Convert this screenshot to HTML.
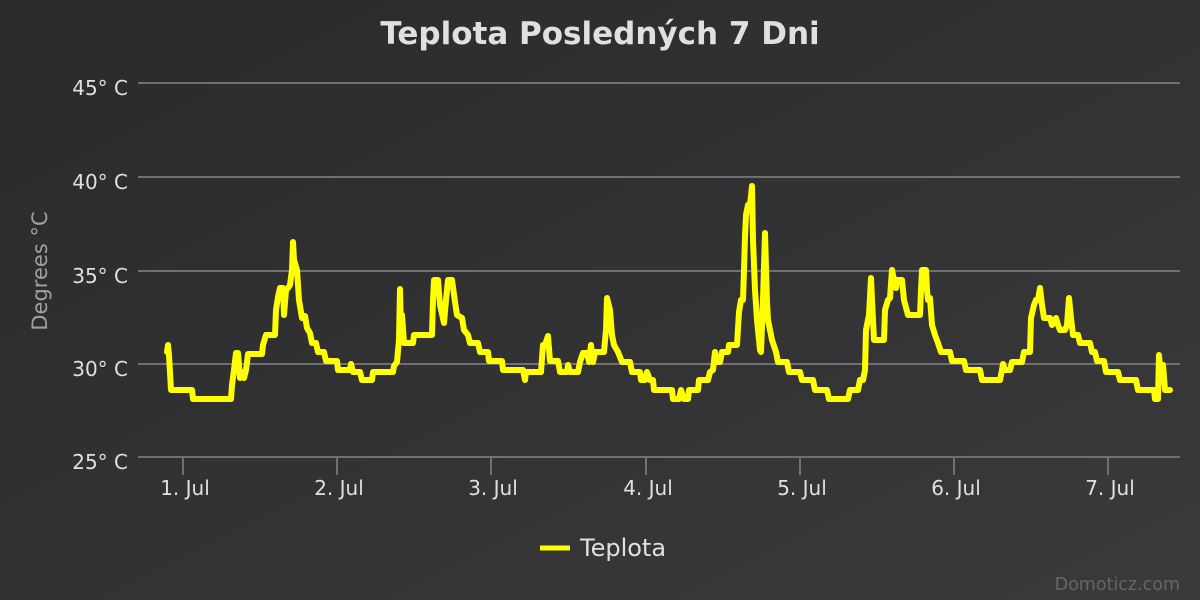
<!DOCTYPE html>
<html><head><meta charset="utf-8"><style>
html,body{margin:0;padding:0;width:1200px;height:600px;overflow:hidden;background:#333;}
</style></head><body>
<svg width="1200" height="600" xmlns="http://www.w3.org/2000/svg" font-family="DejaVu Sans, Liberation Sans, sans-serif">
<defs><linearGradient id="bg" x1="0" y1="0" x2="1" y2="1"><stop offset="0" stop-color="#2a2a2b"/><stop offset="1" stop-color="#3a3a3c"/></linearGradient></defs>
<rect width="1200" height="600" fill="url(#bg)"/>
<text x="600" y="44" text-anchor="middle" font-size="31" font-weight="bold" fill="#e0e0e3">Teplota Posledných 7 Dni</text>
<g stroke="#707073" stroke-width="2">
<line x1="138" y1="83" x2="1180" y2="83"/>
<line x1="138" y1="177" x2="1180" y2="177"/>
<line x1="138" y1="271" x2="1180" y2="271"/>
<line x1="138" y1="364" x2="1180" y2="364"/>
<line x1="138" y1="457" x2="1180" y2="457"/>
<line x1="183" y1="457" x2="183" y2="475"/>
<line x1="337" y1="457" x2="337" y2="475"/>
<line x1="491" y1="457" x2="491" y2="475"/>
<line x1="646" y1="457" x2="646" y2="475"/>
<line x1="800" y1="457" x2="800" y2="475"/>
<line x1="954" y1="457" x2="954" y2="475"/>
<line x1="1108" y1="457" x2="1108" y2="475"/>
</g>
<g font-size="20" fill="#e0e0e3" text-anchor="end">
<text x="128" y="95">45° C</text>
<text x="128" y="189">40° C</text>
<text x="128" y="283">35° C</text>
<text x="128" y="376">30° C</text>
<text x="128" y="469">25° C</text>
</g>
<g font-size="20" fill="#e0e0e3" text-anchor="middle">
<text x="185" y="495">1. Jul</text>
<text x="339" y="495">2. Jul</text>
<text x="493" y="495">3. Jul</text>
<text x="648" y="495">4. Jul</text>
<text x="802" y="495">5. Jul</text>
<text x="956" y="495">6. Jul</text>
<text x="1110" y="495">7. Jul</text>
</g>
<text transform="translate(47,271) rotate(-90)" text-anchor="middle" font-size="21" fill="#a0a0a3">Degrees °C</text>
<polyline fill="none" stroke="#ffff00" stroke-width="6" stroke-linejoin="round" stroke-linecap="round" points="167,352 168,345 169,355 171,390 192,390 193,399 231,399 232,385 234,370 236,353 238,353 240,378 242,372 244,378 246,370 248,354 262,354 263,345 266,335 275,335 276,310 278,297 280,288 283,288 284,315 286,290 288,288 290,285 292,270 293,242 294,260 297,270 299,300 302,318 305,316 307,328 310,333 312,343 316,343 318,352 324,352 326,361 337,361 338,370 350,370 351,364 353,372 360,372 362,380 372,380 373,372 393,372 394,366 397,362 399,340 400,289 401,330 402,315 404,343 413,343 414,335 432,335 433,300 434,280 438,280 440,305 444,323 446,300 448,280 452,280 455,302 457,315 462,318 464,330 468,335 470,343 478,343 480,352 488,352 489,361 502,361 503,370 523,370 525,380 526,372 541,372 543,345 545,345 548,336 550,361 558,361 560,372 567,372 568,365 570,372 578,372 580,362 583,353 587,353 589,362 591,345 593,362 595,352 604,352 606,330 607,298 610,310 612,335 614,345 618,352 622,362 630,362 632,372 640,372 641,380 645,380 647,372 650,380 653,380 654,390 672,390 673,399 679,399 681,390 684,399 688,399 689,390 698,390 699,380 708,380 710,372 713,370 715,352 717,362 720,362 722,352 728,352 729,345 737,345 739,312 741,300 743,300 744,270 745,237 746,215 748,205 750,205 752,186 753,240 755,290 757,320 760,350 761,352 763,300 765,233 767,302 768,320 772,340 776,352 778,362 787,362 789,372 800,372 802,380 813,380 815,390 827,390 829,399 848,399 850,390 858,390 860,380 863,380 865,370 866,330 869,315 871,278 872,300 874,340 884,340 885,310 888,300 890,298 892,270 893,275 896,288 897,280 902,280 904,300 908,315 920,315 921,290 922,270 926,270 927,290 928,300 930,298 932,325 935,335 938,343 941,352 950,352 952,361 964,361 966,370 980,370 982,380 1000,380 1002,370 1003,364 1005,370 1010,370 1012,362 1022,362 1024,352 1030,352 1031,318 1034,305 1036,300 1038,300 1040,288 1042,305 1044,318 1050,318 1052,325 1056,318 1058,325 1060,330 1065,330 1067,325 1069,298 1071,318 1073,335 1078,335 1080,343 1090,343 1092,352 1095,352 1097,361 1104,361 1106,372 1118,372 1120,380 1136,380 1138,390 1154,390 1155,399 1158,399 1159,355 1161,380 1163,365 1165,390 1170,390"/>
<line x1="540" y1="548" x2="570" y2="548" stroke="#ffff00" stroke-width="5"/>
<text x="580" y="556" font-size="24" fill="#e0e0e3">Teplota</text>
<text x="1180" y="590" text-anchor="end" font-size="17.5" fill="#666666">Domoticz.com</text>
</svg>
</body></html>
